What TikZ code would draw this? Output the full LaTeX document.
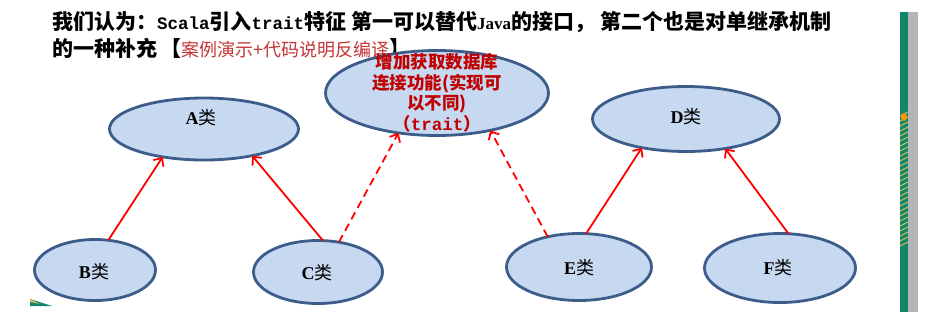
\documentclass[tikz,border=0pt]{standalone}
\usepackage{fontspec}
\setmainfont{Liberation Serif}
\newfontfamily\cjk{Noto Sans CJK SC}
\newfontfamily\monof{Liberation Mono}
\usetikzlibrary{shapes.geometric,arrows.meta}

\definecolor{cfill}{RGB}{198,217,241}
\definecolor{cedge}{RGB}{60,93,138}
\definecolor{tred}{RGB}{192,0,0}
\definecolor{nred}{RGB}{196,52,52}
\definecolor{barg}{RGB}{18,134,104}
\definecolor{bargrey}{RGB}{178,182,187}
\definecolor{hatch}{RGB}{214,186,92}

\tikzset{
  cls/.style={ellipse, draw=cedge, fill=cfill, line width=2.8pt, inner sep=0pt, outer sep=0pt},
  lbl/.style={inner sep=0pt, font=\fontsize{18}{20}\selectfont},
  inh/.style={draw=red, line width=1.8pt, -{Straight Barb[length=6.5pt,width=12pt]}},
  impl/.style={inh, dash pattern=on 8pt off 5pt},
  ttl/.style={anchor=base west, inner sep=0pt, font=\cjk\bfseries\fontsize{21}{24}\selectfont},
  latin/.style={}
}
\newcommand{\monotxt}[1]{{\monof\bfseries\fontsize{17.5}{20}\selectfont #1}}
\newcommand{\serftxt}[1]{{\rmfamily\bfseries\fontsize{17}{20}\selectfont #1}}

\begin{document}
\begin{tikzpicture}[x=1pt,y=-1pt]
\useasboundingbox (0,0) rectangle (933,325);

% heading
\node[ttl] (t1) at (52,29) {我们认为：\monotxt{Scala}引入\monotxt{trait}特征\hspace{5pt}第一可以替代\serftxt{Java}的接口，};
\node[ttl] (t2) at (600,29) {第二个也是对单继承机制};
\node[ttl] (t3) at (52,56) {的一种补充\hspace{3pt}【{\mdseries\color{nred}\fontsize{18}{20}\selectfont 案例演示+代码说明反编译}】};

% side bar
\fill[barg] (900,12) rectangle (908,312);
\fill[bargrey] (908,12) rectangle (918,312);
\foreach \yy in {116,121,...,246}
  \draw[hatch, line width=1pt] (900,\yy) -- (908,\yy-4);
\fill[orange!85!yellow] (904,117) ellipse (3pt and 4pt);

% corner decoration
\fill[barg] (30,306) -- (30,299) -- (52,306) -- cycle;
\fill[hatch] (30,302) -- (30,299) -- (40,304) -- cycle;

% classes
\node[cls, minimum width=189pt, minimum height=62pt] (A) at (204,129) {};
\node[cls, minimum width=223pt, minimum height=85pt] (T) at (437,93) {};
\node[cls, minimum width=187pt, minimum height=65pt] (D) at (686,119) {};
\node[cls, minimum width=121pt, minimum height=61pt] (B) at (95,270) {};
\node[cls, minimum width=129pt, minimum height=63pt] (C) at (318,272) {};
\node[cls, minimum width=145pt, minimum height=67pt] (E) at (579,267) {};
\node[cls, minimum width=151pt, minimum height=69pt] (F) at (780,268) {};

\node[lbl] (la) at (201,118) {{\bfseries A}{\cjk 类}};
\node[lbl] (ld) at (686,117) {{\bfseries D}{\cjk 类}};
\node[lbl] (lb) at (94,272) {{\bfseries B}{\cjk 类}};
\node[lbl] (lc) at (317,273) {{\bfseries C}{\cjk 类}};
\node[lbl] (le) at (579,268) {{\bfseries E}{\cjk 类}};
\node[lbl] (lf) at (778,268) {{\bfseries F}{\cjk 类}};

\node[inner sep=0pt, align=center, text=tred,
      font=\cjk\bfseries\fontsize{17.5}{20.5}\selectfont] (tt) at (437,93)
  {增加获取数据库\\连接功能(实现可\\以不同)\\（{\monof\bfseries trait}）};

% inheritance and trait links
\draw[inh] (B.66.6) -- (A.214.3);
\draw[inh] (C.81) -- (A.331.9);
\draw[impl] (C.55.5) -- (T.226.4);
\draw[impl] (E.136.9) -- (T.325.4);
\draw[inh] (E.78.7) -- (D.213.1);
\draw[inh] (F.76) -- (D.323);
\end{tikzpicture}
\end{document}
